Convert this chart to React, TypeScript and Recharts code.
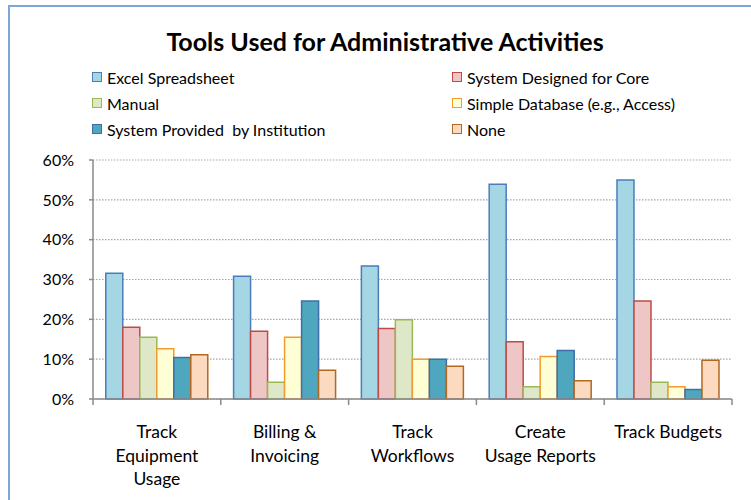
import React from 'react';
import { BarChart, Bar, XAxis, YAxis, CartesianGrid } from 'recharts';

const categoryLines: string[][] = [
  ['Track', 'Equipment', 'Usage'],
  ['Billing &', 'Invoicing'],
  ['Track', 'Workflows'],
  ['Create', 'Usage Reports'],
  ['Track Budgets'],
];
const categories = categoryLines.map((l) => l.join(' '));

const excelSpreadsheet = [31.6, 30.8, 33.4, 53.9, 55.0];
const systemForCore = [18.0, 17.0, 17.7, 14.4, 24.6];
const manual = [15.5, 4.2, 19.9, 3.1, 4.2];
const simpleDatabase = [12.6, 15.5, 10.0, 10.7, 3.1];
const systemByInstitution = [10.4, 24.6, 10.0, 12.2, 2.4];
const noTool = [11.1, 7.2, 8.2, 4.6, 9.7];

const yTicks = [0, 10, 20, 30, 40, 50, 60];

const series = [
  { key: 'excel', name: 'Excel Spreadsheet', values: excelSpreadsheet, fill: '#A5D6E4', stroke: '#4A7EBB' },
  { key: 'core', name: 'System Designed for Core', values: systemForCore, fill: '#EDC6C5', stroke: '#BE4B48' },
  { key: 'manual', name: 'Manual', values: manual, fill: '#DEE7C8', stroke: '#98B954' },
  { key: 'simpleDb', name: 'Simple Database (e.g., Access)', values: simpleDatabase, fill: '#FFFFD5', stroke: '#F59A2E' },
  { key: 'institution', name: 'System Provided  by Institution', values: systemByInstitution, fill: '#4EA7BF', stroke: '#3F6FA8' },
  { key: 'none', name: 'None', values: noTool, fill: '#FCDAC0', stroke: '#B3671F' },
];

const data = categories.map((name, i) => {
  const row: Record<string, string | number> = { name, index: i };
  series.forEach((s) => {
    row[s.key] = s.values[i];
  });
  return row;
});

const WIDTH = 751;
const HEIGHT = 500;
const MARGIN = { top: 160, right: 19, bottom: 0, left: 13 };
const Y_AXIS_WIDTH = 80;
const PLOT_WIDTH = WIDTH - MARGIN.left - MARGIN.right - Y_AXIS_WIDTH;
const BAND = PLOT_WIDTH / categories.length;
const FONT = 'Lato, "Open Sans", sans-serif';
const AXIS_GREY = '#8A8A8A';

const CategoryTick = (props: any) => {
  const { x, y, index } = props;
  const lines = categoryLines[index] || [];
  const axisY = y - 5;
  return (
    <g>
      <line x1={x - BAND / 2} x2={x - BAND / 2} y1={axisY} y2={axisY + 6} stroke={AXIS_GREY} strokeWidth={1.5} />
      {index === categories.length - 1 && (
        <line x1={x + BAND / 2} x2={x + BAND / 2} y1={axisY} y2={axisY + 6} stroke={AXIS_GREY} strokeWidth={1.5} />
      )}
      <text x={x} y={axisY + 39} textAnchor="middle" fontFamily={FONT} fontSize={17.5} fill="#000">
        {lines.map((line, i) => (
          <tspan key={i} x={x} dy={i === 0 ? 0 : 23.5}>
            {line}
          </tspan>
        ))}
      </text>
    </g>
  );
};

const LegendBlock = () => (
  <div style={{ position: 'absolute', top: 66, left: 0, width: WIDTH }}>
    {series.map((s, i) => (
      <div
        key={s.key}
        style={{
          position: 'absolute',
          left: i % 2 === 0 ? 92 : 452,
          top: Math.floor(i / 2) * 26,
          height: 22,
          display: 'flex',
          alignItems: 'center',
          fontFamily: FONT,
          fontSize: 16,
          color: '#000',
          whiteSpace: 'pre',
        }}
      >
        <span
          style={{
            display: 'inline-block',
            width: 8,
            height: 8,
            background: s.fill,
            border: `1.5px solid ${s.stroke}`,
            marginRight: 5,
          }}
        />
        {s.name}
      </div>
    ))}
  </div>
);

export default function App() {
  return (
    <div style={{ position: 'fixed', top: 0, left: 0, width: WIDTH, height: HEIGHT, background: '#fff', overflow: 'hidden' }}>
      <div
        style={{
          position: 'absolute',
          left: 8,
          top: 5,
          width: 800,
          height: 600,
          border: '2px solid #7EA6D8',
          boxSizing: 'border-box',
        }}
      />
      <div
        style={{
          position: 'absolute',
          top: 26,
          left: 0,
          width: 770,
          textAlign: 'center',
          fontFamily: FONT,
          fontWeight: 700,
          fontSize: 25,
          color: '#000',
        }}
      >
        Tools Used for Administrative Activities
      </div>
      <LegendBlock />
      <div style={{ position: 'absolute', top: 0, left: 0 }}>
        <BarChart width={WIDTH} height={HEIGHT} data={data} margin={MARGIN} barGap={0} barCategoryGap="10%">
          <CartesianGrid vertical={false} stroke="#A6A6A6" strokeDasharray="1.5 1.5" strokeWidth={1.2} />
          <XAxis
            dataKey="name"
            height={HEIGHT - MARGIN.top - 239}
            axisLine={{ stroke: AXIS_GREY, strokeWidth: 1.5 }}
            tickLine={false}
            tickSize={5}
            tickMargin={0}
            interval={0}
            tick={<CategoryTick />}
          />
          <YAxis
            width={Y_AXIS_WIDTH}
            domain={[0, 60]}
            ticks={yTicks}
            interval={0}
            tickFormatter={(v: number) => `${v}%`}
            axisLine={{ stroke: AXIS_GREY, strokeWidth: 1.5 }}
            tickLine={{ stroke: AXIS_GREY, strokeWidth: 1.5 }}
            tickSize={4}
            tickMargin={15}
            tick={{ fontFamily: FONT, fontSize: 16, fill: '#000' }}
          />
          {series.map((s) => (
            <Bar
              key={s.key}
              dataKey={s.key}
              name={s.name}
              fill={s.fill}
              stroke={s.stroke}
              strokeWidth={1.5}
              isAnimationActive={false}
            />
          ))}
        </BarChart>
      </div>
    </div>
  );
}
